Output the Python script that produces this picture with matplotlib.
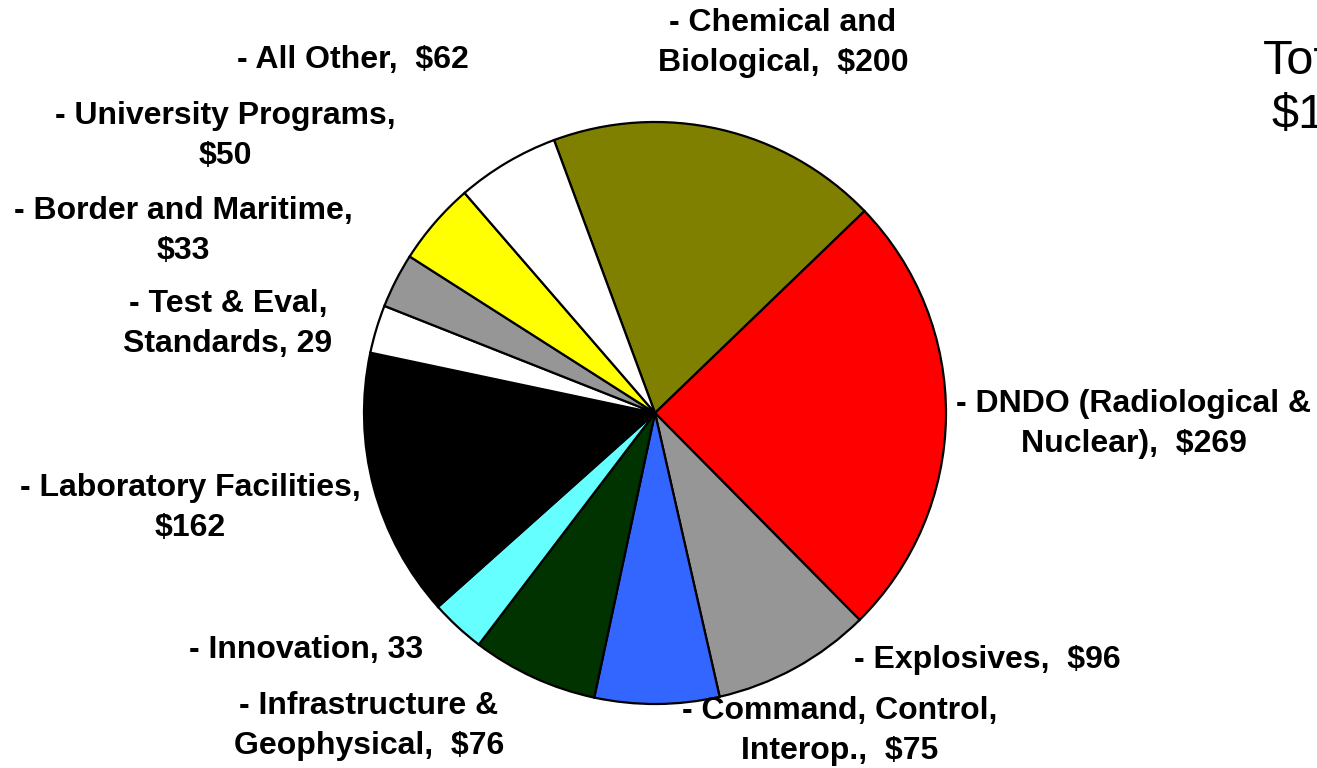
import matplotlib

matplotlib.use("Agg")
import matplotlib.pyplot as plt

plt.rcParams["font.family"] = ["Liberation Sans", "DejaVu Sans"]

W, H = 1317, 768

# Data (clockwise from the top)
names = [
    "- Chemical and\nBiological,  $200",
    "- DNDO (Radiological &\nNuclear),  $269",
    "- Explosives,  $96",
    "- Command, Control,\nInterop.,  $75",
    "- Infrastructure &\nGeophysical,  $76",
    "- Innovation, 33",
    "- Laboratory Facilities,\n$162",
    "- Test & Eval,\nStandards, 29",
    "- Border and Maritime,\n$33",
    "- University Programs,\n$50",
    "- All Other,  $62",
]
values = [200, 269, 96, 75, 76, 33, 162, 29, 33, 50, 62]
colors = ["#808000", "#FF0000", "#969696", "#3366FF", "#003300", "#66FFFF",
          "#000000", "#FFFFFF", "#969696", "#FFFF00", "#FFFFFF"]
total_text = ["Total", "$1,085"]

# label centres in pixels (x, y from top)
label_pos = [(783, 43), (1134, 424), (987, 660), (840, 731), (369, 726),
             (306, 650), (190, 508), (228, 324), (183, 231), (225, 136), (353, 60)]

fig = plt.figure(figsize=(W / 100, H / 100), dpi=100)

cx, cy, r = 655, 355, 291
half = 1.25 * r
ax = fig.add_axes([(cx - half) / W, (cy - half) / H, 2 * half / W, 2 * half / H])
ax.pie(values, colors=colors, startangle=110.3, counterclock=False,
       wedgeprops=dict(edgecolor="black", linewidth=1.6))

for txt, (x, y) in zip(names, label_pos):
    fig.text(x / W, 1 - y / H, txt, ha="center", va="center", fontsize=23,
             fontweight="bold", linespacing=1.45)

# the total sits partly beyond the right edge, as in the original slide
fig.text(1263 / W, 1 - 62 / H, total_text[0], ha="left", va="center", fontsize=35)
fig.text(1272 / W, 1 - 116 / H, total_text[1], ha="left", va="center", fontsize=35)

fig.savefig("out.png", dpi=100)
